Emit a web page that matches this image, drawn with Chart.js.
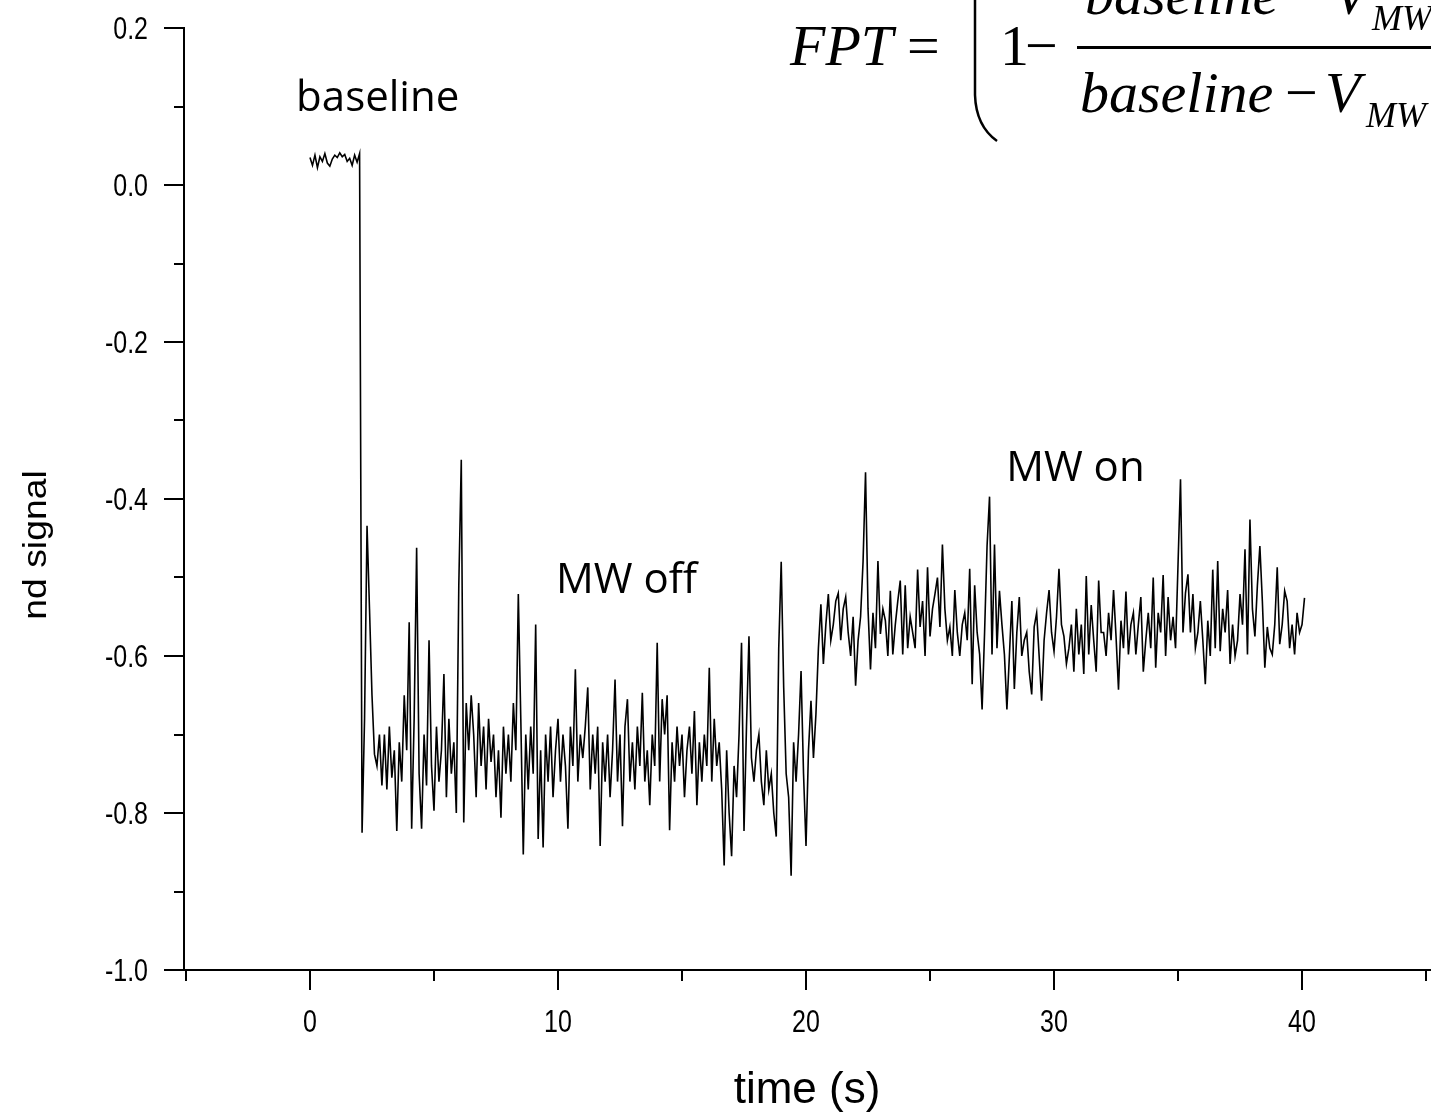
<!DOCTYPE html>
<html><head><meta charset="utf-8">
<script src="https://cdn.jsdelivr.net/npm/chart.js@4.4.1/dist/chart.umd.min.js"></script>
<style>html,body{margin:0;padding:0;background:#fff;overflow:hidden}canvas{display:block}</style>
</head><body>
<canvas id="c" width="1431" height="1114"></canvas>
<script>
// sampling interval of the recorded trace (s)
const timeStep = 0.1;
// nd signal, t = 0.0 ... 9.9 s
const signal_00_09 = [
  0.035, 0.025, 0.038, 0.022, 0.036, 0.030, 0.040, 0.028, 0.024, 0.033,
  0.038, 0.035, 0.041, 0.036, 0.039, 0.030, 0.034, 0.025, 0.038, 0.029,
  0.040, -0.825, -0.680, -0.434, -0.540, -0.650, -0.725, -0.740, -0.700, -0.765,
  -0.700, -0.770, -0.690, -0.755, -0.720, -0.823, -0.710, -0.760, -0.650, -0.720,
  -0.557, -0.820, -0.680, -0.462, -0.750, -0.820, -0.700, -0.765, -0.580, -0.740,
  -0.797, -0.690, -0.760, -0.720, -0.623, -0.780, -0.680, -0.750, -0.710, -0.800,
  -0.510, -0.350, -0.812, -0.660, -0.720, -0.650, -0.700, -0.780, -0.660, -0.740,
  -0.690, -0.770, -0.680, -0.735, -0.700, -0.780, -0.720, -0.806, -0.690, -0.750,
  -0.700, -0.760, -0.660, -0.720, -0.521, -0.680, -0.853, -0.700, -0.770, -0.690,
  -0.750, -0.560, -0.833, -0.720, -0.844, -0.700, -0.760, -0.690, -0.780, -0.720
];
// t = 10.0 ... 19.9 s
const signal_10_19 = [
  -0.680, -0.760, -0.700, -0.740, -0.820, -0.690, -0.740, -0.617, -0.760, -0.700,
  -0.730, -0.690, -0.640, -0.770, -0.700, -0.750, -0.690, -0.842, -0.710, -0.760,
  -0.700, -0.780, -0.720, -0.630, -0.760, -0.700, -0.817, -0.690, -0.655, -0.760,
  -0.710, -0.770, -0.690, -0.740, -0.647, -0.760, -0.720, -0.790, -0.700, -0.740,
  -0.583, -0.760, -0.655, -0.700, -0.650, -0.822, -0.710, -0.760, -0.690, -0.740,
  -0.700, -0.780, -0.720, -0.690, -0.750, -0.670, -0.790, -0.710, -0.760, -0.700,
  -0.740, -0.615, -0.760, -0.680, -0.740, -0.710, -0.770, -0.867, -0.720, -0.800,
  -0.855, -0.740, -0.780, -0.700, -0.583, -0.823, -0.690, -0.575, -0.730, -0.760,
  -0.720, -0.700, -0.760, -0.790, -0.720, -0.770, -0.750, -0.800, -0.830, -0.590,
  -0.480, -0.640, -0.750, -0.780, -0.880, -0.710, -0.760, -0.700, -0.619, -0.750
];
// t = 20.0 ... 29.9 s
const signal_20_29 = [
  -0.842, -0.720, -0.657, -0.730, -0.674, -0.590, -0.534, -0.610, -0.560, -0.521,
  -0.580, -0.560, -0.530, -0.520, -0.580, -0.540, -0.525, -0.570, -0.600, -0.550,
  -0.638, -0.580, -0.550, -0.480, -0.366, -0.540, -0.617, -0.545, -0.590, -0.479,
  -0.572, -0.540, -0.555, -0.600, -0.517, -0.598, -0.560, -0.530, -0.504, -0.598,
  -0.510, -0.590, -0.550, -0.570, -0.590, -0.490, -0.563, -0.530, -0.600, -0.487,
  -0.575, -0.540, -0.521, -0.500, -0.563, -0.458, -0.540, -0.580, -0.563, -0.600,
  -0.516, -0.570, -0.600, -0.560, -0.545, -0.580, -0.489, -0.636, -0.510, -0.570,
  -0.598, -0.668, -0.570, -0.460, -0.397, -0.598, -0.458, -0.590, -0.517, -0.560,
  -0.598, -0.668, -0.600, -0.530, -0.642, -0.570, -0.525, -0.600, -0.580, -0.570,
  -0.620, -0.649, -0.563, -0.545, -0.600, -0.657, -0.580, -0.545, -0.516, -0.570
];
// t = 30.0 ... 40.1 s
const signal_30_40 = [
  -0.594, -0.550, -0.489, -0.560, -0.575, -0.610, -0.590, -0.560, -0.620, -0.540,
  -0.598, -0.560, -0.623, -0.498, -0.598, -0.535, -0.580, -0.620, -0.504, -0.570,
  -0.570, -0.600, -0.545, -0.580, -0.516, -0.575, -0.643, -0.555, -0.590, -0.518,
  -0.598, -0.560, -0.545, -0.598, -0.560, -0.525, -0.620, -0.580, -0.545, -0.590,
  -0.500, -0.615, -0.545, -0.570, -0.497, -0.600, -0.525, -0.580, -0.550, -0.590,
  -0.483, -0.375, -0.570, -0.520, -0.496, -0.570, -0.521, -0.590, -0.570, -0.530,
  -0.580, -0.636, -0.555, -0.600, -0.490, -0.590, -0.479, -0.594, -0.540, -0.570,
  -0.516, -0.610, -0.560, -0.600, -0.580, -0.521, -0.560, -0.464, -0.598, -0.426,
  -0.540, -0.575, -0.510, -0.460, -0.530, -0.615, -0.563, -0.590, -0.598, -0.560,
  -0.487, -0.585, -0.560, -0.517, -0.530, -0.590, -0.560, -0.598, -0.545, -0.570,
  -0.560, -0.526
];
// axis labels
const xTitle = 'time (s)';
const yTitle = 'nd signal';
const xLabelled = [0, 10, 20, 30, 40];
// text notes placed in data coordinates (time, signal)
const notes = [
  { text: 'baseline', t: -0.56, v: 0.094 },
  { text: 'MW off', t: 9.92, v: -0.52 },
  { text: 'MW on', t: 28.07, v: -0.377 }
];

const signal = [].concat(signal_00_09, signal_10_19, signal_20_29, signal_30_40);
const points = signal.map((v, i) => ({ x: Math.round(i * timeStep * 10) / 10, y: v }));

const SANS = '"Liberation Sans", Arial, sans-serif';
const SERIF = '"Liberation Serif", "Times New Roman", serif';

function yLabel(v) { const k = Math.round(v * 10); return k % 2 === 0 ? (k / 10).toFixed(1) : ''; }
function xLabel(v) { return xLabelled.includes(v) ? String(v) : ''; }
function txt(ctx, font, s, x, y) { ctx.font = font; ctx.fillText(s, x, y); }
function stretchedText(ctx, font, s, x, y, align, k, rot) {
  ctx.save();
  ctx.translate(x, y);
  if (rot) ctx.rotate(rot);
  ctx.scale(rot ? k : 1, rot ? 1 : k);
  ctx.font = font; ctx.textAlign = align; ctx.textBaseline = 'alphabetic';
  ctx.fillText(s, 0, 0);
  ctx.restore();
}

const overlay = {
  id: 'overlay',
  afterDraw(chart) {
    const ctx = chart.ctx, xs = chart.scales.x, ys = chart.scales.y;
    ctx.save();
    ctx.strokeStyle = '#000'; ctx.fillStyle = '#000'; ctx.lineWidth = 2;
    const tickFont = '25px ' + SANS;
    // y ticks and labels
    ys.ticks.forEach(t => {
      const py = Math.round(ys.getPixelForValue(t.value));
      const lab = yLabel(t.value);
      const len = lab ? 20 : 10;
      ctx.beginPath(); ctx.moveTo(xs.left, py); ctx.lineTo(xs.left - len, py); ctx.stroke();
      if (lab) stretchedText(ctx, tickFont, lab, xs.left - 36, py + 11, 'right', 1.22);
    });
    // x ticks and labels
    xs.ticks.forEach(t => {
      const px = Math.round(xs.getPixelForValue(t.value));
      const lab = xLabel(t.value);
      const len = lab ? 20 : 11;
      ctx.beginPath(); ctx.moveTo(px, ys.bottom); ctx.lineTo(px, ys.bottom + len); ctx.stroke();
      if (lab) stretchedText(ctx, tickFont, lab, px, ys.bottom + 62, 'center', 1.22);
    });
    // axis titles
    stretchedText(ctx, '44px ' + SANS, xTitle, 807, 1103, 'center', 1);
    stretchedText(ctx, '34px ' + SANS, yTitle, 46, 545, 'center', 1.1, -Math.PI / 2);
    // notes
    ctx.textAlign = 'left'; ctx.textBaseline = 'alphabetic';
    notes.forEach(n => txt(ctx, '42px "Open Sans", sans-serif', n.text, xs.getPixelForValue(n.t), ys.getPixelForValue(n.v)));
    // formula
    const it = 'italic 58px ' + SERIF, up = '58px ' + SERIF, sub = 'italic 36px ' + SERIF;
    txt(ctx, it, 'FPT', 790, 65);
    txt(ctx, up, '=', 907, 65);
    txt(ctx, up, '1', 1000, 65);
    txt(ctx, up, '\u2212', 1025, 65);
    txt(ctx, it, 'baseline', 1085, 14);
    txt(ctx, up, '\u2212', 1288, 14);
    txt(ctx, it, 'V', 1333, 14);
    txt(ctx, sub, 'MW', 1372, 30);
    ctx.fillRect(1077, 46, 400, 3);
    txt(ctx, it, 'baseline', 1080, 112);
    txt(ctx, up, '\u2212', 1285, 112);
    txt(ctx, it, 'V', 1325, 112);
    txt(ctx, sub, 'MW', 1366, 127);
    ctx.lineWidth = 2.5;
    ctx.beginPath(); ctx.moveTo(975, 0); ctx.lineTo(975, 95);
    ctx.quadraticCurveTo(976, 126, 997, 141); ctx.stroke();
    ctx.restore();
  }
};

new Chart(document.getElementById('c').getContext('2d'), {
  type: 'line',
  data: { datasets: [{ data: points, borderColor: '#000', borderWidth: 1.6, pointRadius: 0, tension: 0, fill: false }] },
  options: {
    responsive: false, animation: false, events: [],
    layout: { padding: { top: 28, left: 0, right: 0, bottom: 0 } },
    plugins: { legend: { display: false }, tooltip: { enabled: false } },
    scales: {
      x: {
        type: 'linear', min: -5.08, max: 45.2,
        afterFit(s) { s.height = 144; },
        ticks: { display: false, stepSize: 5, includeBounds: false, autoSkip: false },
        grid: { display: false, drawTicks: false },
        border: { display: true, color: '#000', width: 2 }
      },
      y: {
        min: -1, max: 0.2,
        afterFit(s) { s.width = 184; },
        ticks: { display: false, stepSize: 0.1, autoSkip: false },
        grid: { display: false, drawTicks: false },
        border: { display: true, color: '#000', width: 2 }
      }
    }
  },
  plugins: [overlay]
});
</script>
</body></html>
